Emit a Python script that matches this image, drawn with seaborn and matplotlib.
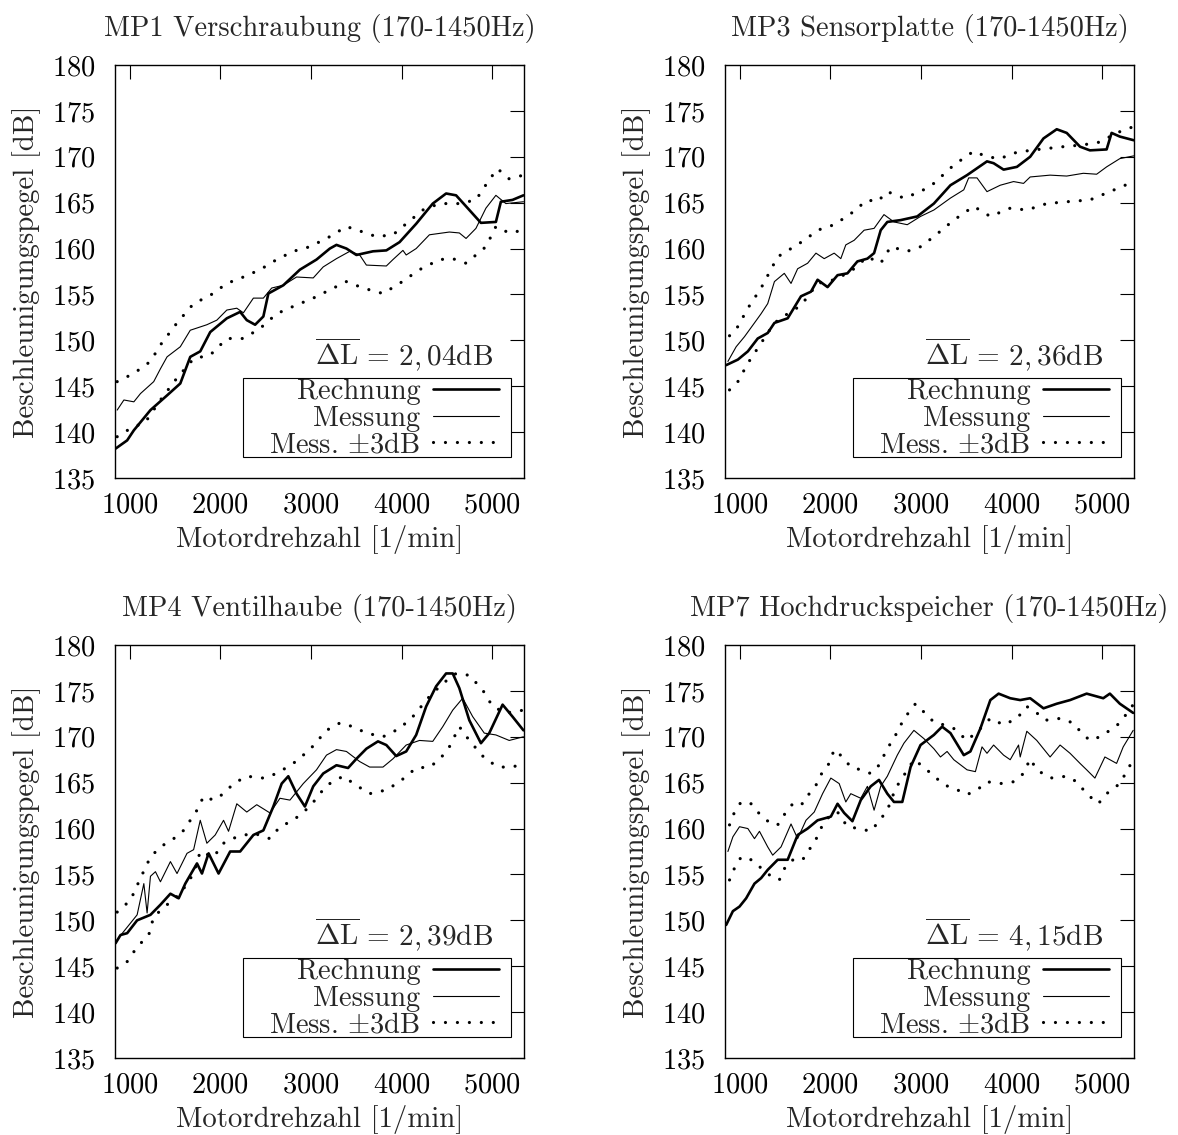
import matplotlib
matplotlib.use("Agg")
import matplotlib.pyplot as plt
from matplotlib.patches import Rectangle
import seaborn as sns

# ---------------------------------------------------------------- data
x_ticks = [1000, 2000, 3000, 4000, 5000]
y_ticks = [135, 140, 145, 150, 155, 160, 165, 170, 175, 180]

titles = [
    "MP1 Verschraubung (170-1450Hz)",
    "MP3 Sensorplatte (170-1450Hz)",
    "MP4 Ventilhaube (170-1450Hz)",
    "MP7 Hochdruckspeicher (170-1450Hz)",
]
delta_l = ["2,04", "2,36", "2,39", "4,15"]
legend_labels = ["Rechnung", "Messung", r"Mess. $\pm$3dB"]

# MP1
mp1_rech_rpm = [846, 974, 1048, 1231, 1414, 1560, 1670, 1780, 1890, 2073, 2220, 2293, 2385,
                2476, 2531, 2696, 2879, 3062, 3209, 3282, 3392, 3502, 3685, 3832, 3978, 4161,
                4344, 4491, 4601, 4711, 4875, 5040, 5095, 5223, 5344]
mp1_rech_db = [138.2, 139.1, 140.2, 142.4, 144.0, 145.3, 148.2, 148.8, 150.9, 152.4, 153.1,
               152.2, 151.7, 152.6, 155.1, 156.0, 157.7, 158.8, 160.0, 160.4, 160.0, 159.3,
               159.7, 159.8, 160.7, 162.7, 164.9, 166.0, 165.8, 164.6, 162.8, 162.9, 165.1,
               165.3, 165.8]
mp1_mess_rpm = [864, 938, 1048, 1121, 1267, 1341, 1414, 1560, 1670, 1853, 1963, 2073, 2183,
                2256, 2366, 2476, 2568, 2696, 2842, 3026, 3136, 3282, 3429, 3538, 3612, 3832,
                3905, 4015, 4051, 4161, 4307, 4527, 4637, 4711, 4820, 4930, 5040, 5150, 5344]
mp1_mess_db = [142.4, 143.5, 143.3, 144.2, 145.5, 146.9, 148.2, 149.3, 151.1, 151.7, 152.2,
               153.3, 153.5, 153.0, 154.6, 154.6, 155.7, 156.0, 156.9, 156.8, 158.0, 158.9,
               159.7, 159.3, 158.2, 158.1, 158.8, 159.8, 159.3, 160.0, 161.5, 161.8, 161.7,
               161.1, 162.2, 164.4, 165.8, 164.9, 165.1]
mp1_upper_rpm = [864, 1048, 1231, 1341, 1524, 1707, 1890, 2073, 2256, 2440, 2623, 2806, 2989,
                 3209, 3392, 3575, 3722, 3905, 4051, 4234, 4418, 4637, 4820, 4967, 5058, 5186,
                 5344]
mp1_upper_db = [145.5, 146.4, 147.7, 149.5, 151.9, 154.0, 154.9, 156.2, 156.9, 157.7, 158.8,
                159.7, 160.2, 161.3, 162.4, 161.8, 161.3, 161.5, 162.7, 164.2, 164.9, 164.9,
                165.3, 167.5, 168.7, 167.6, 168.0]
mp1_lower_rpm = [864, 1011, 1176, 1341, 1524, 1707, 1890, 2073, 2256, 2440, 2623, 2806, 3026,
                 3209, 3392, 3575, 3795, 3978, 4198, 4418, 4564, 4711, 4930, 5040, 5186, 5344]
mp1_lower_db = [139.5, 140.4, 141.1, 143.5, 145.9, 148.0, 148.4, 150.2, 150.2, 151.3, 152.9,
                153.7, 154.6, 155.5, 156.4, 155.7, 155.1, 156.2, 157.7, 158.8, 158.9, 158.4,
                160.2, 162.4, 161.7, 162.0]

# MP3
mp3_rech_rpm = [853, 982, 1092, 1201, 1311, 1385, 1531, 1678, 1788, 1861, 1971, 2081, 2190,
                2300, 2410, 2484, 2557, 2630, 2777, 2960, 3143, 3326, 3509, 3729, 3802, 3912,
                4059, 4205, 4352, 4498, 4608, 4755, 4864, 5048, 5103, 5194, 5348]
mp3_rech_db = [147.3, 147.9, 148.8, 150.2, 150.8, 151.9, 152.4, 154.8, 155.3, 156.6, 155.8,
               157.1, 157.3, 158.6, 158.9, 159.5, 162.0, 162.9, 163.1, 163.5, 164.9, 166.9,
               168.0, 169.5, 169.3, 168.6, 168.9, 170.0, 172.0, 173.0, 172.6, 171.1, 170.7,
               170.8, 172.6, 172.2, 171.8]
mp3_mess_rpm = [872, 963, 1055, 1165, 1238, 1311, 1385, 1494, 1568, 1641, 1751, 1843, 1934,
                2044, 2117, 2172, 2264, 2374, 2484, 2593, 2703, 2850, 2996, 3143, 3326, 3473,
                3527, 3619, 3729, 3875, 4022, 4132, 4205, 4425, 4608, 4791, 4938, 5048, 5194,
                5348]
mp3_mess_db = [147.7, 149.3, 150.4, 151.9, 152.9, 154.0, 156.4, 157.3, 156.2, 157.8, 158.4,
               159.5, 158.9, 159.5, 158.9, 160.4, 160.9, 162.0, 162.2, 163.7, 162.9, 162.6,
               163.5, 164.2, 165.5, 166.4, 167.7, 167.7, 166.2, 166.9, 167.3, 167.1, 167.8,
               168.0, 167.9, 168.2, 168.1, 168.9, 169.8, 170.1]
mp3_upper_rpm = [890, 982, 1092, 1238, 1421, 1568, 1714, 1861, 2044, 2227, 2410, 2520, 2630,
                 2813, 2996, 3143, 3363, 3582, 3729, 3875, 4022, 4205, 4388, 4571, 4791, 4974,
                 5158, 5348]
mp3_upper_db = [150.5, 151.5, 153.5, 155.7, 159.1, 160.0, 160.9, 162.0, 162.6, 163.8, 165.3,
                165.1, 166.2, 165.5, 166.2, 167.1, 169.1, 170.6, 170.0, 169.8, 170.4, 170.7,
                170.9, 171.1, 171.3, 171.6, 172.6, 173.3]
mp3_lower_rpm = [890, 982, 1092, 1238, 1385, 1531, 1678, 1861, 2044, 2227, 2410, 2557, 2667,
                 2850, 2996, 3143, 3363, 3582, 3765, 3985, 4168, 4388, 4608, 4864, 5084, 5348]
mp3_lower_db = [144.6, 145.5, 147.5, 149.7, 151.9, 152.9, 153.8, 156.2, 156.6, 157.5, 159.1,
                158.4, 160.2, 159.7, 160.2, 161.3, 163.1, 164.6, 163.5, 164.4, 164.2, 164.9,
                165.1, 165.3, 166.2, 167.3]

# MP4
mp4_rech_rpm = [846, 901, 974, 1084, 1231, 1341, 1451, 1542, 1615, 1744, 1799, 1872, 1982,
                2110, 2220, 2366, 2476, 2586, 2678, 2751, 2842, 2934, 3026, 3136, 3282, 3410,
                3502, 3612, 3740, 3832, 3941, 4051, 4161, 4271, 4381, 4491, 4564, 4637, 4747,
                4875, 4967, 5114, 5223, 5344]
mp4_rech_db = [147.5, 148.4, 148.6, 150.0, 150.6, 151.7, 152.9, 152.4, 154.0, 156.2, 155.1,
               157.3, 155.1, 157.5, 157.5, 159.3, 159.8, 162.4, 164.9, 165.7, 163.8, 162.4,
               164.6, 166.0, 166.9, 166.6, 167.6, 168.7, 169.5, 169.1, 167.9, 168.4, 170.2,
               173.3, 175.5, 176.9, 176.9, 175.3, 171.8, 169.3, 170.4, 173.5, 172.2, 170.7]
mp4_mess_rpm = [864, 1011, 1084, 1158, 1194, 1231, 1286, 1341, 1451, 1524, 1634, 1707, 1780,
                1853, 1945, 2037, 2092, 2183, 2293, 2403, 2549, 2659, 2769, 2916, 3062, 3172,
                3282, 3392, 3538, 3648, 3795, 3905, 4051, 4198, 4344, 4454, 4564, 4674, 4784,
                4912, 5040, 5187, 5344]
mp4_mess_db = [147.9, 149.7, 150.6, 154.0, 150.8, 154.8, 155.3, 154.2, 156.4, 155.1, 157.3,
               157.7, 160.9, 158.4, 159.3, 160.9, 159.7, 162.7, 161.8, 162.6, 161.7, 163.3,
               163.1, 164.9, 166.4, 168.0, 168.6, 168.4, 167.3, 166.7, 166.7, 167.6, 169.1,
               169.6, 169.5, 171.1, 172.9, 174.2, 172.2, 170.4, 170.2, 169.6, 170.0]
mp4_upper_rpm = [864, 1011, 1121, 1231, 1341, 1487, 1597, 1744, 1817, 1927, 2037, 2147, 2293,
                 2476, 2623, 2806, 2989, 3172, 3319, 3465, 3612, 3795, 3978, 4125, 4308, 4454,
                 4601, 4747, 4894, 5004, 5150, 5344]
mp4_upper_db = [150.9, 152.2, 154.6, 156.9, 158.0, 158.9, 159.8, 162.0, 163.5, 163.1, 163.8,
                164.9, 165.7, 165.5, 166.0, 167.1, 168.6, 170.7, 171.5, 171.1, 170.4, 170.0,
                170.9, 172.2, 174.4, 175.8, 176.9, 176.7, 175.1, 173.3, 172.6, 172.9]
mp4_lower_rpm = [864, 974, 1084, 1212, 1267, 1414, 1560, 1707, 1780, 1927, 2037, 2183, 2366,
                 2549, 2659, 2806, 2989, 3172, 3355, 3502, 3648, 3832, 3978, 4161, 4308, 4418,
                 4527, 4637, 4747, 4930, 5077, 5223, 5344]
mp4_lower_db = [144.8, 145.5, 147.1, 148.4, 150.4, 151.7, 152.9, 155.1, 157.5, 156.9, 158.4,
                159.1, 159.5, 158.9, 160.2, 160.9, 162.4, 164.7, 165.7, 164.7, 163.8, 164.2,
                165.1, 166.6, 166.7, 167.5, 168.9, 171.1, 169.6, 167.5, 166.7, 166.7, 167.1]

# MP7
mp7_rech_rpm = [853, 927, 1000, 1073, 1165, 1238, 1311, 1421, 1531, 1641, 1751, 1861, 2007,
                2081, 2154, 2245, 2337, 2447, 2538, 2630, 2703, 2795, 2886, 2996, 3143, 3234,
                3326, 3473, 3546, 3656, 3766, 3857, 3985, 4095, 4205, 4352, 4498, 4645, 4828,
                5011, 5084, 5194, 5341]
mp7_rech_db = [149.5, 151.0, 151.5, 152.4, 154.0, 154.6, 155.5, 156.6, 156.6, 159.3, 160.0,
               160.9, 161.3, 162.7, 161.7, 160.8, 163.1, 164.6, 165.3, 163.8, 162.9, 162.9,
               166.7, 169.1, 170.2, 171.1, 170.4, 168.0, 168.4, 170.9, 174.0, 174.7, 174.2,
               174.0, 174.2, 173.1, 173.6, 174.0, 174.7, 174.2, 174.7, 173.6, 172.6]
mp7_mess_rpm = [872, 927, 1000, 1092, 1165, 1220, 1311, 1366, 1458, 1568, 1641, 1733, 1824,
                1916, 2007, 2099, 2172, 2227, 2337, 2410, 2484, 2557, 2630, 2740, 2813, 2923,
                3033, 3143, 3216, 3289, 3363, 3509, 3601, 3674, 3729, 3802, 3912, 3985, 4077,
                4095, 4168, 4278, 4425, 4535, 4645, 4755, 4828, 4919, 5029, 5158, 5231, 5341]
mp7_mess_db = [157.5, 159.1, 160.2, 160.0, 158.9, 159.7, 158.0, 157.1, 158.0, 160.5, 158.9,
               160.9, 161.8, 163.8, 165.5, 164.9, 162.9, 163.8, 163.3, 164.6, 162.0, 164.6,
               165.7, 168.0, 169.3, 170.7, 169.8, 168.7, 167.8, 168.4, 167.5, 166.4, 166.2,
               168.9, 168.2, 169.1, 168.0, 167.5, 169.1, 167.8, 170.6, 169.6, 167.8, 169.1,
               168.2, 167.1, 166.4, 165.5, 167.8, 167.1, 168.9, 170.7]
mp7_upper_rpm = [890, 945, 1018, 1128, 1220, 1348, 1421, 1513, 1604, 1696, 1769, 1842, 1916,
                 1989, 2044, 2136, 2227, 2337, 2447, 2538, 2630, 2722, 2795, 2868, 2941, 3033,
                 3143, 3253, 3363, 3509, 3656, 3766, 3912, 4059, 4168, 4278, 4370, 4535, 4681,
                 4773, 4864, 4974, 5084, 5194, 5341]
mp7_upper_db = [160.4, 161.8, 162.9, 162.7, 161.6, 160.5, 160.4, 161.8, 162.9, 162.7, 163.8,
                164.7, 166.2, 167.1, 168.6, 167.8, 166.7, 166.4, 166.0, 166.9, 168.7, 170.2,
                171.6, 172.7, 173.6, 172.7, 171.6, 171.3, 170.9, 169.6, 170.9, 172.0, 171.3,
                172.0, 173.3, 172.6, 171.8, 172.0, 171.5, 170.4, 169.6, 170.0, 170.7, 171.5,
                173.5]
mp7_lower_rpm = [890, 945, 1018, 1128, 1238, 1348, 1439, 1513, 1604, 1696, 1769, 1842, 1916,
                 1989, 2081, 2190, 2319, 2447, 2538, 2630, 2722, 2813, 2923, 3033, 3143, 3271,
                 3363, 3509, 3619, 3729, 3875, 4022, 4132, 4205, 4278, 4425, 4608, 4718, 4828,
                 4956, 5048, 5194, 5341]
mp7_lower_db = [154.4, 155.7, 156.9, 156.6, 155.7, 154.8, 154.4, 156.0, 156.7, 156.6, 157.7,
                158.8, 160.4, 161.3, 161.8, 160.2, 160.0, 159.7, 160.8, 162.0, 164.4, 165.8,
                167.5, 166.7, 165.7, 164.7, 164.4, 163.7, 164.2, 165.1, 164.9, 165.1, 166.0,
                167.6, 166.4, 165.5, 165.7, 165.1, 163.8, 162.7, 163.8, 164.9, 167.5]

panels = [
    (mp1_rech_rpm, mp1_rech_db, mp1_mess_rpm, mp1_mess_db,
     mp1_upper_rpm, mp1_upper_db, mp1_lower_rpm, mp1_lower_db),
    (mp3_rech_rpm, mp3_rech_db, mp3_mess_rpm, mp3_mess_db,
     mp3_upper_rpm, mp3_upper_db, mp3_lower_rpm, mp3_lower_db),
    (mp4_rech_rpm, mp4_rech_db, mp4_mess_rpm, mp4_mess_db,
     mp4_upper_rpm, mp4_upper_db, mp4_lower_rpm, mp4_lower_db),
    (mp7_rech_rpm, mp7_rech_db, mp7_mess_rpm, mp7_mess_db,
     mp7_upper_rpm, mp7_upper_db, mp7_lower_rpm, mp7_lower_db),
]

# ---------------------------------------------------------------- style
sns.set_style("white")
plt.rcParams.update({
    "font.family": ["cmr10", "DejaVu Serif"],
    "mathtext.fontset": "cm",
    "axes.formatter.use_mathtext": True,
    "axes.unicode_minus": False,
    "font.size": 20.5,
    "axes.edgecolor": "black",
    "axes.linewidth": 1.0,
    "xtick.direction": "in",
    "ytick.direction": "in",
    "xtick.top": True,
    "ytick.right": True,
    "xtick.major.size": 10,
    "ytick.major.size": 10,
    "xtick.major.width": 0.8,
    "ytick.major.width": 0.8,
    "xtick.color": "black",
    "ytick.color": "black",
    "lines.scale_dashes": False,
})

FS = 20.5
fig = plt.figure(figsize=(11.78, 11.35), dpi=100)
W, H = 1178, 1135
boxes = [(115, 65), (725, 65), (115, 645), (725, 645)]
aw, ah = 409, 413

dot_style = (0, (0.01, 8.6))

for i, (box, data) in enumerate(zip(boxes, panels)):
    x0, y0 = box
    ax = fig.add_axes([x0 / W, 1 - (y0 + ah) / H, aw / W, ah / H])
    r_x, r_y, m_x, m_y, u_x, u_y, l_x, l_y = data

    sns.lineplot(x=r_x, y=r_y, ax=ax, color="black", linewidth=1.9, sort=False,
                 estimator=None, label=legend_labels[0])
    sns.lineplot(x=m_x, y=m_y, ax=ax, color="black", linewidth=0.8, sort=False,
                 estimator=None, label=legend_labels[1])
    sns.lineplot(x=u_x, y=u_y, ax=ax, color="black", linewidth=2.3, sort=False,
                 estimator=None, linestyle=dot_style, dash_capstyle="round",
                 label=legend_labels[2])
    sns.lineplot(x=l_x, y=l_y, ax=ax, color="black", linewidth=2.3, sort=False,
                 estimator=None, linestyle=dot_style, dash_capstyle="round")

    ax.set_xlim(840, 5350)
    ax.set_ylim(135, 180)
    ax.set_xticks(x_ticks)
    ax.set_yticks(y_ticks)
    ax.tick_params(axis="x", pad=10, labelsize=FS)
    ax.tick_params(axis="y", pad=14, labelsize=FS)
    for s in ax.spines.values():
        s.set_visible(True)
        s.set_color("black")

    ax.set_title(titles[i], fontsize=FS, pad=21)
    ax.set_xlabel("Motordrehzahl [1/min]", fontsize=20.8, labelpad=5)
    ax.set_ylabel("Beschleunigungspegel [dB]", fontsize=20.8, labelpad=8)

    ax.text(0.924, 0.274,
            r"$\overline{\Delta\mathrm{L}}\,=\," + delta_l[i] + r"\mathrm{dB}$",
            transform=ax.transAxes, ha="right", va="baseline", fontsize=21)

    # key box with white fill behind the entries
    ax.add_patch(Rectangle((0.313, 0.051), 0.655, 0.19, transform=ax.transAxes,
                           facecolor="white", edgecolor="black", linewidth=0.8,
                           zorder=4))
    leg = ax.legend(loc="center right", bbox_to_anchor=(0.938, 0.144),
                    markerfirst=False, frameon=False, fontsize=20.5,
                    handlelength=2.3, handletextpad=0.45, labelspacing=0.0,
                    borderpad=0.0, borderaxespad=0)
    leg.set_zorder(5)
    for t in leg.get_texts():
        t.set_ha("right")

fig.savefig("out.png", dpi=100)
